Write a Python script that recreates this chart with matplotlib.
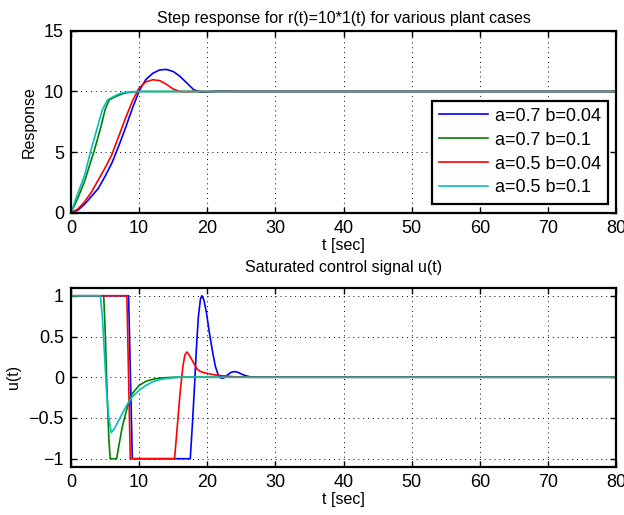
import matplotlib
matplotlib.use('Agg')
import matplotlib.pyplot as plt

### DATA ###

labels = ['a=0.7 b=0.04', 'a=0.7 b=0.1', 'a=0.5 b=0.04', 'a=0.5 b=0.1']
colors = ['#0000ff', '#008000', '#ff0000', '#00bfbf']

# step response y(t)
t_y_blue = [0, 1, 2, 3, 4, 5, 6, 7, 8, 9, 10, 11, 12, 13, 14, 15, 16, 17, 18, 19, 20, 22, 25, 80]
y_blue = [0, 0.2, 0.7, 1.35, 2.0, 3.0, 4.1, 5.5, 7.0, 8.6, 10.05, 11.0, 11.5, 11.78, 11.82,
          11.65, 11.25, 10.7, 10.15, 9.95, 9.97, 10.03, 10.0, 10.0]
t_y_green = [0, 0.5, 1, 2, 3, 3.4, 4.4, 5.0, 5.6, 6.6, 7.8, 9, 10, 80]
y_green = [0, 0.6, 1.2, 2.6, 4.4, 5.1, 7.1, 8.5, 9.3, 9.6, 9.86, 9.97, 10, 10]
t_y_red = [0, 1, 2, 3, 4, 5, 6, 7, 8, 9, 10, 11, 12, 13, 14, 15, 16, 17, 18, 80]
y_red = [0, 0.3, 0.9, 1.7, 2.7, 3.7, 4.8, 6.3, 7.8, 9.2, 10.3, 10.8, 10.97, 10.9, 10.6,
         10.2, 10.0, 9.98, 10.0, 10.0]
t_y_cyan = [0, 0.5, 1, 1.7, 2, 2.9, 3.9, 4.6, 5.35, 6.3, 7.3, 8.5, 10, 80]
y_cyan = [0, 0.8, 1.6, 2.63, 3.1, 5.1, 7.1, 8.5, 9.3, 9.6, 9.86, 9.97, 10, 10]

# saturated control u(t)
t_u_blue = [0, 8.45, 9.0, 17.5, 17.8, 18.1, 18.4, 18.7, 19.0, 19.2, 19.5, 19.9, 20.3, 20.8,
            21.2, 21.6, 22.0, 22.4, 23.0, 23.5, 24.0, 24.5, 25.0, 25.6, 26.5, 80]
u_blue = [1, 1, -1, -1, -0.6, -0.15, 0.35, 0.75, 0.96, 1.0, 0.95, 0.78, 0.55, 0.3,
          0.13, 0.03, -0.01, -0.01, 0.03, 0.06, 0.07, 0.06, 0.04, 0.02, 0.0, 0]
t_u_green = [0, 4.8, 5.0, 5.3, 5.55, 5.75, 6.7, 7.0, 7.5, 8.0, 8.5, 9, 10, 11, 12, 13, 15, 80]
u_green = [1, 1, 0.6, -0.2, -0.75, -1, -1, -0.85, -0.62, -0.45, -0.3, -0.2, -0.1, -0.05,
           -0.025, -0.01, 0, 0]
t_u_red = [0, 8.2, 8.7, 15.2, 15.6, 16.0, 16.4, 16.7, 17.0, 17.3, 17.7, 18.1, 18.5, 19,
           19.8, 21, 22, 24, 26, 80]
u_red = [1, 1, -1, -1, -0.6, -0.2, 0.12, 0.27, 0.31, 0.28, 0.22, 0.16, 0.1, 0.07,
         0.05, 0.03, 0.02, 0.005, 0, 0]
t_u_cyan = [0, 4.3, 4.6, 4.9, 5.2, 5.5, 5.9, 6.3, 7, 7.5, 8, 8.5, 9, 10, 11, 12, 13, 14, 16, 80]
u_cyan = [1, 1, 0.75, 0.3, -0.15, -0.47, -0.68, -0.64, -0.53, -0.45, -0.37, -0.3, -0.24,
          -0.16, -0.1, -0.055, -0.03, -0.015, 0, 0]

y_series = [(t_y_blue, y_blue), (t_y_green, y_green), (t_y_red, y_red), (t_y_cyan, y_cyan)]
u_series = [(t_u_blue, u_blue), (t_u_green, u_green), (t_u_red, u_red), (t_u_cyan, u_cyan)]

x_ticks = [0, 10, 20, 30, 40, 50, 60, 70, 80]
y_ticks_top = [0, 5, 10, 15]
y_ticks_bot = [-1, -0.5, 0, 0.5, 1]
y_ticklabels_bot = ['\u22121', '\u22120.5', '0', '0.5', '1']

### PLOT ###
plt.rcParams['font.family'] = ['Liberation Sans', 'DejaVu Sans']

fig = plt.figure(figsize=(6.24, 5.15), dpi=100)
ax1 = fig.add_axes([0.1138, 0.587, 0.8735, 0.353])
ax2 = fig.add_axes([0.1138, 0.0935, 0.8735, 0.348])


def style(ax):
    for s in ax.spines.values():
        s.set_linewidth(1.6)
    ax.tick_params(direction='in', top=True, right=True, length=4, width=1.0,
                   labelsize=13, pad=5)
    ax.grid(True, color='black', linestyle=(0, (1, 4)), linewidth=0.7)
    ax.set_xlim(0, 80)
    ax.set_xticks(x_ticks)
    ax.set_xlabel('t [sec]', fontsize=11.5, labelpad=1)


for (t, y), c, lab in zip(y_series, colors, labels):
    ax1.plot(t, y, color=c, linewidth=1.2, label=lab)
style(ax1)
ax1.set_ylim(0, 15)
ax1.set_yticks(y_ticks_top)
ax1.set_ylabel('Response', fontsize=11.5)
ax1.yaxis.set_label_coords(-0.062, 0.5)
ax1.set_title('Step response for r(t)=10*1(t) for various plant cases', fontsize=11.5, pad=6)
leg = ax1.legend(loc='lower right', bbox_to_anchor=(0.986, 0.05), borderaxespad=0,
                 fontsize=13, fancybox=False, framealpha=1, edgecolor='black',
                 handlelength=2.7, handletextpad=0.4, labelspacing=0.38, borderpad=0.4)
leg.get_frame().set_linewidth(1.6)

for (t, u), c in zip(u_series, colors):
    ax2.plot(t, u, color=c, linewidth=1.2)
style(ax2)
ax2.set_ylim(-1.1, 1.1)
ax2.set_yticks(y_ticks_bot)
ax2.set_yticklabels(y_ticklabels_bot)
ax2.set_ylabel('u(t)', fontsize=11.5)
ax2.yaxis.set_label_coords(-0.092, 0.5)
ax2.set_title('Saturated control signal u(t)', fontsize=11.5, pad=11)

fig.savefig('out.png', dpi=100)
